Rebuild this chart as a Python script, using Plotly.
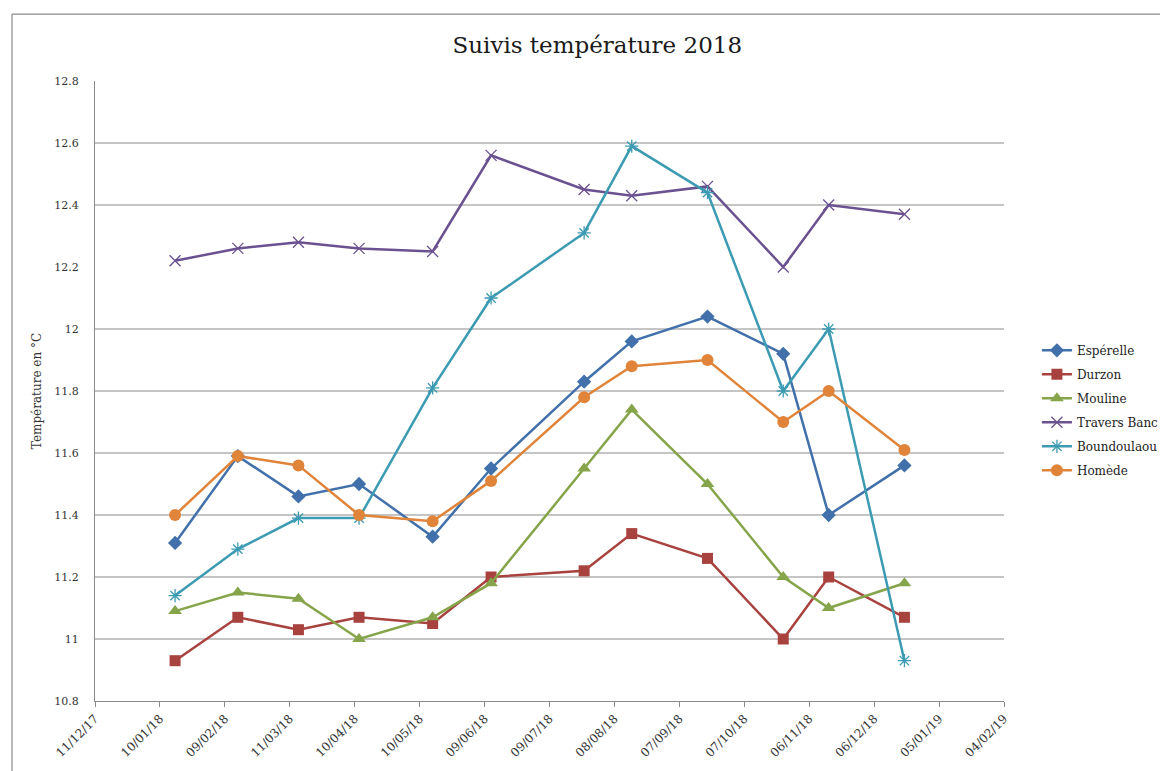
import plotly.graph_objects as go

dates = ["2018-01-17", "2018-02-15", "2018-03-15", "2018-04-12", "2018-05-16", "2018-06-12",
         "2018-07-25", "2018-08-16", "2018-09-20", "2018-10-25", "2018-11-15", "2018-12-20"]

esperelle = [11.31, 11.59, 11.46, 11.50, 11.33, 11.55, 11.83, 11.96, 12.04, 11.92, 11.40, 11.56]
durzon = [10.93, 11.07, 11.03, 11.07, 11.05, 11.20, 11.22, 11.34, 11.26, 11.00, 11.20, 11.07]
mouline = [11.09, 11.15, 11.13, 11.00, 11.07, 11.18, 11.55, 11.74, 11.50, 11.20, 11.10, 11.18]
travers_banc = [12.22, 12.26, 12.28, 12.26, 12.25, 12.56, 12.45, 12.43, 12.46, 12.20, 12.40, 12.37]
boundoulaou = [11.14, 11.29, 11.39, 11.39, 11.81, 12.10, 12.31, 12.59, 12.44, 11.80, 12.00, 10.93]
homede = [11.40, 11.59, 11.56, 11.40, 11.38, 11.51, 11.78, 11.88, 11.90, 11.70, 11.80, 11.61]

x_tick_dates = ["2017-12-11", "2018-01-10", "2018-02-09", "2018-03-11", "2018-04-10", "2018-05-10",
                "2018-06-09", "2018-07-09", "2018-08-08", "2018-09-07", "2018-10-07", "2018-11-06",
                "2018-12-06", "2019-01-05", "2019-02-04"]
x_tick_labels = ["11/12/17", "10/01/18", "09/02/18", "11/03/18", "10/04/18", "10/05/18",
                 "09/06/18", "09/07/18", "08/08/18", "07/09/18", "07/10/18", "06/11/18",
                 "06/12/18", "05/01/19", "04/02/19"]
y_ticks = [10.8, 11.0, 11.2, 11.4, 11.6, 11.8, 12.0, 12.2, 12.4, 12.6, 12.8]
y_tick_labels = ["10.8", "11", "11.2", "11.4", "11.6", "11.8", "12", "12.2", "12.4", "12.6", "12.8"]
grid_values = [11.0, 11.2, 11.4, 11.6, 11.8, 12.0, 12.4, 12.6]

FONT = "DejaVu Serif"

series = [
    ("Espérelle", esperelle, "#4170AA", dict(symbol="diamond", size=11)),
    ("Durzon", durzon, "#A8423F", dict(symbol="square", size=11)),
    ("Mouline", mouline, "#86A44A", dict(symbol="triangle-up", size=12)),
    ("Travers Banc", travers_banc, "#6A5190", dict(symbol="x-thin-open", size=11, line=dict(width=1.3))),
    ("Boundoulaou", boundoulaou, "#3C9BB3", dict(symbol="asterisk-open", size=11, line=dict(width=1.3))),
    ("Homède", homede, "#E0843A", dict(symbol="circle", size=12)),
]

fig = go.Figure()
for name, vals, color, mk in series:
    marker = dict(color=color, **mk)
    if "line" in mk:
        marker["line"] = dict(color=color, width=mk["line"]["width"])
    fig.add_trace(go.Scatter(
        x=dates, y=vals, name=name, mode="lines+markers",
        line=dict(color=color, width=2.5),
        marker=marker, legendgroup=name,
    ))

shapes = []
for gv in grid_values:
    shapes.append(dict(type="line", xref="paper", yref="y", x0=0, x1=1, y0=gv, y1=gv,
                       line=dict(color="#8a8a8a", width=1), layer="below"))
# chart area border (left and top)
shapes.append(dict(type="line", xref="paper", yref="paper", x0=-0.0913, x1=-0.0913, y0=1.108, y1=-0.2,
                   line=dict(color="#8a8a8a", width=1.2)))
shapes.append(dict(type="line", xref="paper", yref="paper", x0=-0.0913, x1=1.2, y0=1.108, y1=1.108,
                   line=dict(color="#8a8a8a", width=1.2)))

fig.update_layout(
    width=1160, height=763,
    margin=dict(l=87, r=164, t=73, b=70, autoexpand=False),
    paper_bgcolor="white", plot_bgcolor="white",
    title=dict(text="Suivis température 2018", x=0.508, xref="container", xanchor="center",
               y=0.951, yref="container", yanchor="middle",
               font=dict(family=FONT, size=23, color="#1a1a1a")),
    font=dict(family=FONT, color="#333333"),
    shapes=shapes,
    legend=dict(x=0.887, xref="container", xanchor="left", y=0.589, yanchor="top",
                font=dict(family=FONT, size=12, color="#222222"),
                tracegroupgap=5, itemwidth=30, bgcolor="rgba(0,0,0,0)"),
    xaxis=dict(
        type="date", range=["2017-12-11", "2019-02-04"],
        tickvals=x_tick_dates, ticktext=x_tick_labels, tickangle=-45,
        showgrid=False, showline=True, linecolor="#8a8a8a", linewidth=1,
        ticks="outside", ticklen=5, tickcolor="#8a8a8a",
        tickfont=dict(family=FONT, size=12, color="#333333"), zeroline=False,
    ),
    yaxis=dict(
        range=[10.8, 12.8], tickvals=y_ticks, ticktext=y_tick_labels,
        showgrid=False, showline=True, linecolor="#8a8a8a", linewidth=1,
        ticks="", ticklabelstandoff=13,
        tickfont=dict(family=FONT, size=11, color="#333333"), zeroline=False,
        title=dict(text="Température en °C", font=dict(family=FONT, size=12, color="#333333"),
                   standoff=10),
    ),
)

fig.write_html("out.html")
